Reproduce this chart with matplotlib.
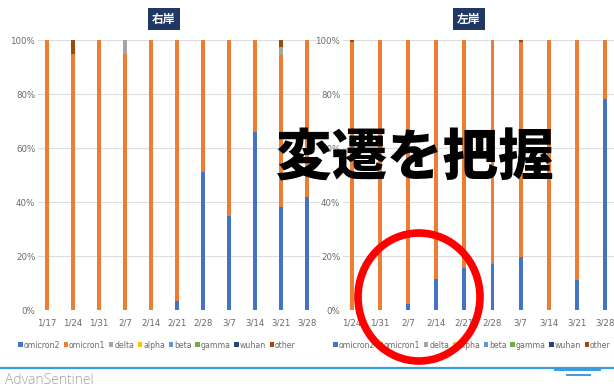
import matplotlib
matplotlib.use("Agg")
import matplotlib.pyplot as plt
from matplotlib.patches import Ellipse, Rectangle, Patch
from matplotlib.lines import Line2D
import numpy as np

plt.rcParams['font.family'] = ['Noto Sans CJK JP', 'DejaVu Sans']

# ---- data (percent share of each variant per week) ----
variants = ["omicron2", "omicron1", "delta", "alpha", "beta", "gamma", "wuhan", "other"]
colors = ["#4472C4", "#ED7D31", "#A5A5A5", "#FFC000", "#5B9BD5", "#70AD47", "#264478", "#9E480E"]

right_bank_dates = ["1/17", "1/24", "1/31", "2/7", "2/14", "2/21", "2/28", "3/7", "3/14", "3/21", "3/28"]
right_bank_omicron2 = [0, 0, 0, 0, 0, 3.5, 51, 35, 66, 38, 42]
right_bank_delta = [0, 0, 0, 5, 0, 0, 0, 0, 0, 3, 0]
right_bank_other = [0, 5, 0, 0, 0, 0, 0, 0, 0, 2.5, 0]

left_bank_dates = ["1/24", "1/31", "2/7", "2/14", "2/21", "2/28", "3/7", "3/14", "3/21", "3/28"]
left_bank_omicron2 = [0, 0, 2.2, 11.5, 15.5, 17, 19.5, 0, 11, 78]
left_bank_delta = [0, 0, 0, 0, 0, 0, 0, 0, 0, 0]
left_bank_other = [0.6, 0, 0, 0, 0, 0, 0.6, 0, 0, 0]

W, H = 614, 387
fig = plt.figure(figsize=(W / 100, H / 100), dpi=100)
fig.patch.set_facecolor("white")

TICK_FONT = ["DejaVu Sans"]


def px_axes(x0, y0, x1, y1):
    return fig.add_axes([x0 / W, 1 - y1 / H, (x1 - x0) / W, (y1 - y0) / H])


def draw_panel(ax, dates, om2, delta, other, xmin, xmax):
    n = len(dates)
    x = np.arange(n)
    om2 = np.array(om2, float)
    delta = np.array(delta, float)
    other = np.array(other, float)
    om1 = 100 - om2 - delta - other
    zeros = np.zeros(n)
    series = [om2, om1, delta, zeros, zeros, zeros, zeros, other]
    bottom = np.zeros(n)
    for vals, c in zip(series, colors):
        ax.bar(x, vals, bottom=bottom, width=0.14, color=c, zorder=3, linewidth=0)
        bottom += vals
    ax.set_xlim(xmin, xmax)
    ax.set_ylim(0, 100)
    ax.set_yticks(range(0, 101, 20))
    ax.set_yticklabels([f"{v}%" for v in range(0, 101, 20)])
    ax.set_xticks(x)
    ax.set_xticklabels(dates)
    ax.grid(axis="y", color="#DDDDDD", linewidth=0.8, zorder=0)
    for s in ax.spines.values():
        s.set_visible(False)
    ax.tick_params(length=0, labelsize=6.2, colors="#6A6A6A", pad=2)
    ax.tick_params(axis="x", pad=6)
    for lbl in ax.get_xticklabels() + ax.get_yticklabels():
        lbl.set_family(TICK_FONT)


ax1 = px_axes(38, 40, 320, 310)
draw_panel(ax1, right_bank_dates, right_bank_omicron2, right_bank_delta, right_bank_other, -0.35, 10.5)
ax2 = px_axes(343, 40, 619, 310)
draw_panel(ax2, left_bank_dates, left_bank_omicron2, left_bank_delta, left_bank_other, -0.32, 9.5)

# panel titles on navy boxes
for cx, title in [(164, "右岸"), (469, "左岸")]:
    fig.patches.append(Rectangle(((cx - 16) / W, 1 - 30 / H), 32 / W, 22 / H,
                                 transform=fig.transFigure, facecolor="#203864",
                                 edgecolor="none"))
    fig.text(cx / W, 1 - 19 / H, title, color="white", fontsize=8.5, fontweight="bold",
             ha="center", va="center")

# legends
handles = [Patch(facecolor=c, edgecolor="none") for c in colors]
for cx in (157, 472):
    fig.legend(handles, variants, loc="center", bbox_to_anchor=(cx / W, 1 - 345 / H),
               ncol=8, frameon=False, handlelength=0.55, handleheight=0.55,
               handletextpad=0.15, columnspacing=0.45, labelcolor="#6A6A6A",
               borderpad=0, borderaxespad=0,
               prop={"family": "DejaVu Sans", "size": 5.6})

# footer
fig.add_artist(Line2D([0, 1], [1 - 368 / H, 1 - 368 / H], transform=fig.transFigure,
                      color="#3A9BDC", linewidth=1.6))
fig.add_artist(Line2D([555 / W, 600 / W], [1 - 370 / H, 1 - 370 / H], transform=fig.transFigure,
                      color="#3A9BDC", linewidth=1.4))
fig.add_artist(Line2D([567 / W, 590 / W], [1 - 374.5 / H, 1 - 374.5 / H], transform=fig.transFigure,
                      color="#3A9BDC", linewidth=1.4))
fig.text(5 / W, 1 - 380 / H, "AdvanSentinel", color="#A0A0A0", fontsize=10,
         ha="left", va="center", family=["Open Sans", "DejaVu Sans"], fontweight="light")

# annotation overlay
fig.text(415 / W, 1 - 159 / H, "変遷を把握", color="black", fontsize=40, fontweight="black",
         ha="center", va="center", zorder=10)
fig.add_artist(Ellipse((419 / W, 1 - 297 / H), 122 / W, 128 / H, transform=fig.transFigure,
                       fill=False, edgecolor="#FF0000", linewidth=5.5, zorder=11))

fig.savefig("out.png", dpi=100)
